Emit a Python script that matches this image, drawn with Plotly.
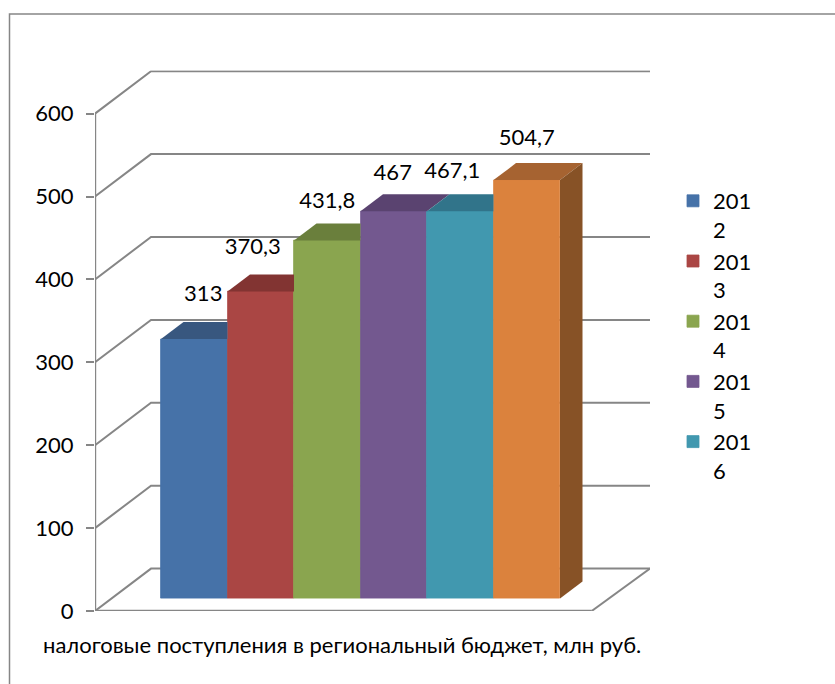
import plotly.graph_objects as go

# ---- data ----
years = ["2012", "2013", "2014", "2015", "2016", "2017"]
legend_lines = [["201", "2"], ["201", "3"], ["201", "4"], ["201", "5"], ["201", "6"], ["201", "7"]]
values = [313, 370.3, 431.8, 467, 467.1, 504.7]
value_labels = ["313", "370,3", "431,8", "467", "467,1", "504,7"]
y_ticks = [0, 100, 200, 300, 400, 500, 600]
axis_title = "налоговые поступления в региональный бюджет, млн руб."

# ---- styles ----
front_colors = ["#4672A8", "#AA4644", "#8AA54F", "#73588F", "#4198AF", "#DB823D"]
top_colors = ["#38577F", "#823432", "#6A7F3C", "#5A4370", "#31748A", "#A66331"]
side_color = "#875226"
GRAY = "#868686"
FONT = "Lato, 'Open Sans', 'Noto Sans', sans-serif"
TXT = 22

# ---- layout geometry in pixels ----
W, H = 835, 684
PX_LEFT, PX_RIGHT, PX_TOP, PX_BOTTOM = 95.0, 650.0, 70.5, 611.0
PX_PER_UNIT = 0.829
BAR_PX = 66.5
FIRST_BAR_LEFT_PX = 161.0
FRONT_RIGHT_PX = 591.7
WALL_DX_PX, WALL_DY_PX = 56.0, 42.4
DEPTH_DX_PX, DEPTH_DY_PX = 22.5, 17.0
LIFT_PX = 12.5

x0_unit = -(FIRST_BAR_LEFT_PX + BAR_PX / 2 - PX_LEFT) / BAR_PX
x_range = [x0_unit, x0_unit + (PX_RIGHT - PX_LEFT) / BAR_PX]
y_range = [0, (PX_BOTTOM - PX_TOP) / PX_PER_UNIT]
wall_dx = WALL_DX_PX / BAR_PX
wall_dy = WALL_DY_PX / PX_PER_UNIT
depth_dx = DEPTH_DX_PX / BAR_PX
depth_dy = DEPTH_DY_PX / PX_PER_UNIT
lift = LIFT_PX / PX_PER_UNIT
front_right = x0_unit + (FRONT_RIGHT_PX - PX_LEFT) / BAR_PX

fig = go.Figure()

# walls and axes sit under every trace
shapes = []
def seg(xs, ys, width):
    path = "M " + " L ".join(f"{x},{y}" for x, y in zip(xs, ys))
    shapes.append(dict(type="path", path=path, xref="x", yref="y", layer="below",
                       line=dict(color=GRAY, width=width)))

for v in y_ticks:
    seg([x0_unit, x0_unit + wall_dx, x_range[1]], [v, v + wall_dy, v + wall_dy], 2)
seg([x_range[1], front_right], [wall_dy, 0], 2)
seg([x0_unit, x0_unit], [-8.5 / PX_PER_UNIT, max(y_ticks)], 2.4)
seg([x0_unit, front_right], [0, 0], 2.4)
seg([front_right, front_right], [0, -8.5 / PX_PER_UNIT], 2)

# front faces
for i, (yr, v) in enumerate(zip(years, values)):
    fig.add_trace(go.Bar(x=[i], y=[v], base=[lift], width=1, name="<br>".join(legend_lines[i]),
                         marker=dict(color=front_colors[i], line=dict(width=0.8, color=front_colors[i])),
                         showlegend=i < 5, hoverinfo="skip"))

# tops and the visible right side
for i, v in enumerate(values):
    left, right = i - 0.5, i + 0.5
    low, high = v + lift, v + lift + depth_dy
    next_v = values[i + 1] if i + 1 < len(values) else None
    if next_v is not None and next_v >= v + depth_dy:
        xs = [left, left + depth_dx, right, right, left]
        ys = [low, high, high, low, low]
    else:
        xs = [left, left + depth_dx, right + depth_dx, right, left]
        ys = [low, high, high, low, low]
    fig.add_trace(go.Scatter(x=xs, y=ys, mode="lines", fill="toself", fillcolor=top_colors[i],
                             line=dict(width=0), showlegend=False, hoverinfo="skip"))

last = len(values) - 1
r = last + 0.5
fig.add_trace(go.Scatter(
    x=[r, r + depth_dx, r + depth_dx, r, r],
    y=[lift, lift + depth_dy, values[last] + lift + depth_dy, values[last] + lift, lift],
    mode="lines", fill="toself", fillcolor=side_color, line=dict(width=0),
    showlegend=False, hoverinfo="skip"))

# data labels
label_dx_px = [9, -8, 0, -1, -8, 0]
label_dy_px = [44, 43, 38, 37, 39, 41]
fig.add_trace(go.Scatter(
    x=[i + d / BAR_PX for i, d in enumerate(label_dx_px)],
    y=[v + lift + d / PX_PER_UNIT for v, d in zip(values, label_dy_px)],
    mode="text", text=value_labels, textposition="middle center",
    textfont=dict(size=TXT, color="#000000", family=FONT),
    showlegend=False, hoverinfo="skip", cliponaxis=False))

# frame of the chart area
shapes.append(dict(type="path", xref="paper", yref="paper", layer="below",
                   path=f"M {9.5/W},0 L {9.5/W},{1-14/H} L 1,{1-14/H}",
                   line=dict(color=GRAY, width=1.5)))

fig.update_layout(
    width=W, height=H, autosize=False,
    margin=dict(l=0, r=0, t=0, b=0, pad=0, autoexpand=False),
    paper_bgcolor="white", plot_bgcolor="rgba(0,0,0,0)",
    barmode="overlay", bargap=0,
    shapes=shapes,
    font=dict(family=FONT, color="#000000"),
    xaxis=dict(domain=[PX_LEFT / W, PX_RIGHT / W], range=x_range, visible=False, fixedrange=True),
    yaxis=dict(domain=[1 - PX_BOTTOM / H, 1 - PX_TOP / H], range=y_range, tickvals=y_ticks,
               ticks="outside", ticklen=8, tickwidth=2, tickcolor=GRAY, ticklabelstandoff=8,
               tickfont=dict(size=TXT, family=FONT, color="#000000"),
               showgrid=False, zeroline=False, showline=False, fixedrange=True),
    legend=dict(x=673 / W, y=1 - 180 / H, xanchor="left", yanchor="top",
                font=dict(size=TXT, family=FONT, color="#000000"),
                valign="top", bgcolor="rgba(0,0,0,0)", borderwidth=0, itemclick=False,
                itemdoubleclick=False, traceorder="normal"),
    annotations=[dict(text=axis_title, xref="paper", yref="paper", x=342 / W, y=1 - 644 / H,
                      xanchor="center", yanchor="middle", showarrow=False,
                      font=dict(size=TXT, family=FONT, color="#000000"))],
    showlegend=True,
)

fig.write_html("out.html", post_script="document.body.style.margin='0';document.documentElement.style.overflow='hidden';",
               default_width=f"{W}px", default_height=f"{H}px",
               config=dict(displayModeBar=False))
